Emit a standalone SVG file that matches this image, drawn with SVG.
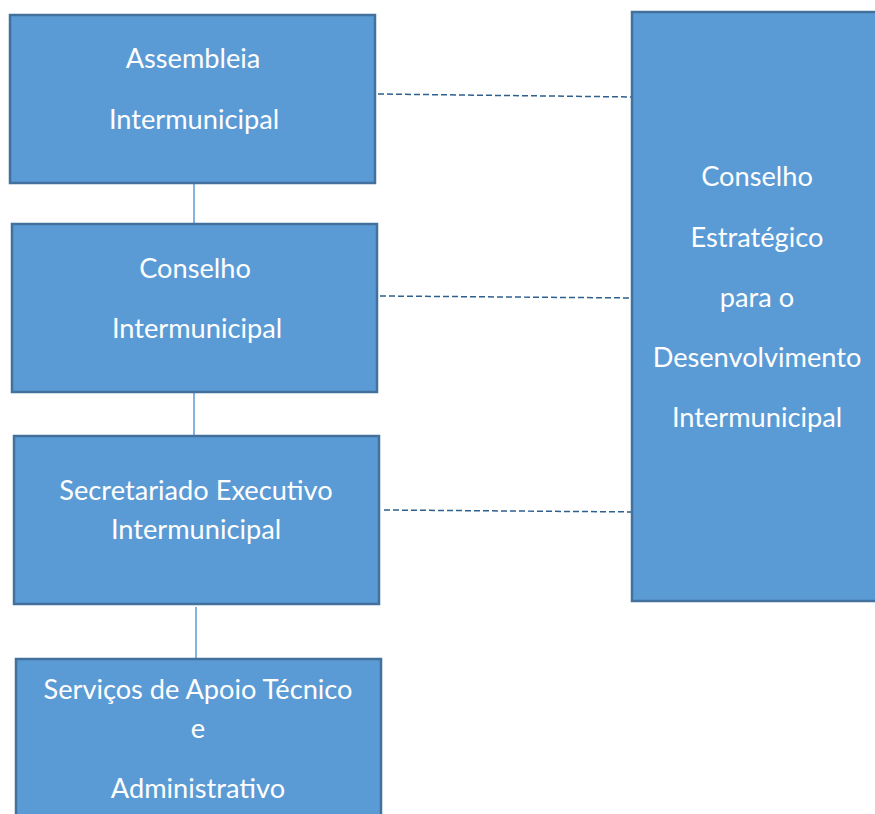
<svg xmlns="http://www.w3.org/2000/svg" width="875" height="814" viewBox="0 0 875 814">
  <style>
    .box { fill: #5b9bd5; stroke: #41719c; stroke-width: 2.5; }
    .lbl { fill: #ffffff; font-family: Lato, "Open Sans", "Liberation Sans", sans-serif; font-size: 27.2px; text-anchor: middle; }
    .solid { stroke: #5b9bd5; stroke-width: 1.5; fill: none; }
    .dash { stroke: #2e5f8f; stroke-width: 1.5; stroke-dasharray: 6 3; fill: none; }
  </style>
  <rect width="875" height="814" fill="#ffffff"/>

  <g id="connectors">
    <line class="solid" x1="194" y1="184" x2="194" y2="224"/>
    <line class="solid" x1="194" y1="393" x2="194" y2="436"/>
    <line class="solid" x1="196" y1="607" x2="196" y2="659"/>
    <line class="dash" x1="378" y1="94" x2="633" y2="97"/>
    <line class="dash" x1="380" y1="296" x2="636" y2="298"/>
    <line class="dash" x1="384" y1="510" x2="640" y2="512"/>
  </g>

  <g id="assembleia">
    <rect class="box" x="10" y="15" width="365" height="168"/>
    <text class="lbl" x="193" y="68">Assembleia</text>
    <text class="lbl" x="194" y="129">Intermunicipal</text>
  </g>

  <g id="conselho-intermunicipal">
    <rect class="box" x="12" y="224" width="365" height="168"/>
    <text class="lbl" x="195" y="278">Conselho</text>
    <text class="lbl" x="197" y="338">Intermunicipal</text>
  </g>

  <g id="secretariado">
    <rect class="box" x="14" y="436" width="365" height="168"/>
    <text class="lbl" x="196" y="500">Secretariado Executivo</text>
    <text class="lbl" x="196" y="539">Intermunicipal</text>
  </g>

  <g id="servicos">
    <rect class="box" x="16" y="659" width="365" height="170"/>
    <text class="lbl" x="198" y="699">Serviços de Apoio Técnico</text>
    <text class="lbl" x="198" y="738">e</text>
    <text class="lbl" x="198" y="798">Administrativo</text>
  </g>

  <g id="conselho-estrategico">
    <rect class="box" x="632" y="12" width="260" height="589"/>
    <text class="lbl" x="757" y="186">Conselho</text>
    <text class="lbl" x="757" y="247">Estratégico</text>
    <text class="lbl" x="757" y="307">para o</text>
    <text class="lbl" x="757" y="367">Desenvolvimento</text>
    <text class="lbl" x="757" y="427">Intermunicipal</text>
  </g>
</svg>
